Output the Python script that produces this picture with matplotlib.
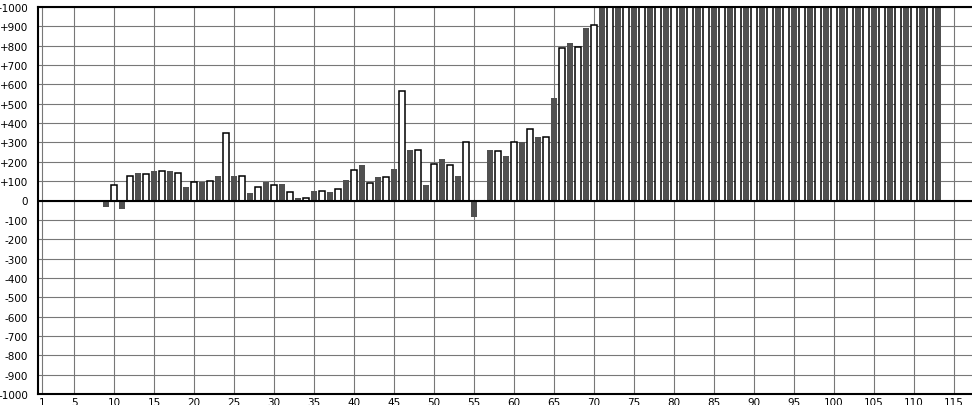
import matplotlib.pyplot as plt

# valores, una barra por posicion 1..113
positions = list(range(1, 114))
values = [
    0, 0, 0, 0, 0, 0, 0, 0, -35, 80,            # 1-10
    -45, 128, 140, 138, 150, 150, 150, 143, 72, 96,   # 11-20
    98, 102, 129, 347, 129, 128, 41, 71, 98, 81,      # 21-30
    85, 42, 14, 12, 50, 49, 45, 61, 108, 160,         # 31-40
    181, 91, 123, 122, 161, 564, 259, 259, 82, 191,   # 41-50
    212, 184, 129, 304, -85, 0, 260, 257, 229, 300,   # 51-60
    300, 372, 327, 327, 529, 786, 814, 791, 891, 909, # 61-70
    1000, 1000, 1000, 1000, 1000, 1000, 1000, 1000, 1000, 1000,  # 71-80
    1000, 1000, 1000, 1000, 1000, 1000, 1000, 1000, 1000, 1000,  # 81-90
    1000, 1000, 1000, 1000, 1000, 1000, 1000, 1000, 1000, 1000,  # 91-100
    1000, 1000, 1000, 1000, 1000, 1000, 1000, 1000, 1000, 1000,  # 101-110
    1000, 1000, 1000,                                            # 111-113
]

x_ticks = [1] + list(range(5, 116, 5))
y_ticks = list(range(-1000, 1001, 100))
y_labels = [f"+{v}" if v > 0 else str(v) for v in y_ticks]

fig = plt.figure(figsize=(9.72, 4.06), dpi=100)
ax = fig.add_axes([38 / 972, 11 / 406, 1 - 38 / 972, 387 / 406])

# pares en blanco con borde, impares en gris oscuro
for x, v in zip(positions, values):
    if v == 0:
        continue
    if x % 2 == 0:
        ax.bar(x, v, width=0.72, color='white', edgecolor='black', linewidth=1.1, zorder=3)
    else:
        ax.bar(x, v, width=0.72, color='#505050', edgecolor='none', zorder=3)

ax.set_xlim(0.5, 117.25)
ax.set_ylim(-1000, 1000)
ax.set_xticks(x_ticks)
ax.set_yticks(y_ticks)
ax.set_yticklabels(y_labels)

ax.set_axisbelow(True)
ax.grid(True, color='#777777', linewidth=0.8)
ax.axhline(0, color='black', linewidth=1.5, zorder=4)

ax.tick_params(axis='both', length=0, labelsize=7.5)
ax.tick_params(axis='y', pad=7)
ax.tick_params(axis='x', pad=2)

ax.spines['right'].set_visible(False)
for s in ['left', 'top', 'bottom']:
    ax.spines[s].set_linewidth(1.5)
    ax.spines[s].set_zorder(5)

fig.savefig('out.png', dpi=100)
